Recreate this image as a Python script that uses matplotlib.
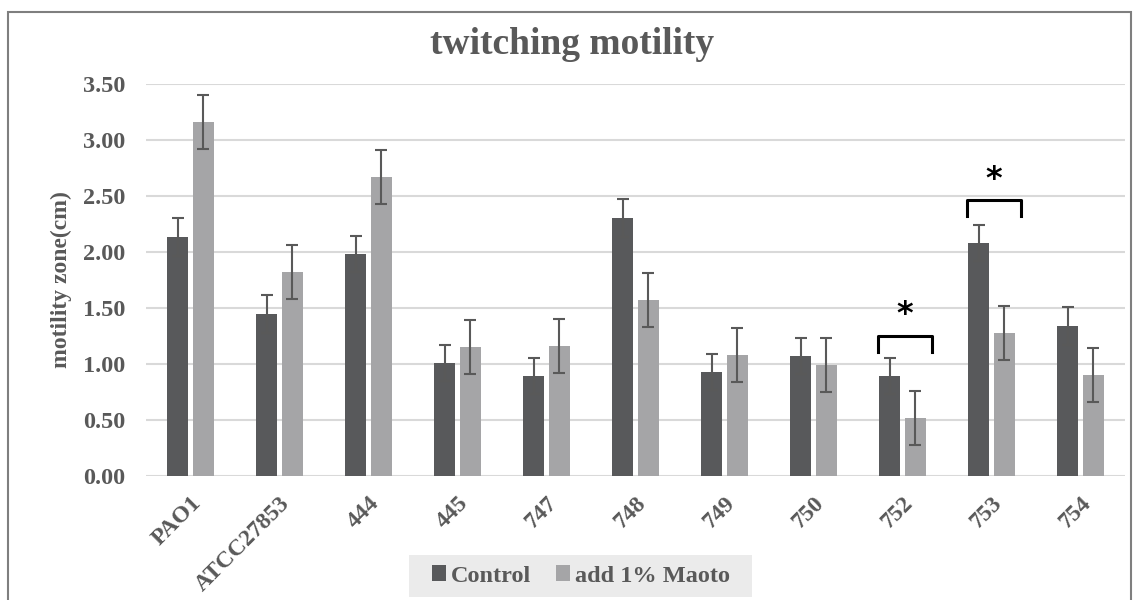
import numpy as np
import matplotlib.pyplot as plt
from matplotlib.patches import Rectangle

plt.rcParams.update({
    "font.family": "Liberation Serif",
    "font.weight": "bold",
    "font.size": 16,
})

strains = ["PAO1", "ATCC27853", "444", "445", "747", "748", "749", "750", "752", "753", "754"]
control = [2.13, 1.45, 1.98, 1.01, 0.89, 2.30, 0.93, 1.07, 0.89, 2.08, 1.34]
control_err = [0.17, 0.17, 0.16, 0.16, 0.16, 0.17, 0.16, 0.16, 0.16, 0.16, 0.17]
maoto = [3.16, 1.82, 2.67, 1.15, 1.16, 1.57, 1.08, 0.99, 0.52, 1.28, 0.90]
maoto_err = [0.24, 0.24, 0.24, 0.24, 0.24, 0.24, 0.24, 0.24, 0.24, 0.24, 0.24]
# strains marked as significant, with bracket height and drop
sig_idx = [8, 9]
sig_top = [1.25, 2.46]
sig_drop = [0.14, 0.14]

c_dark = '#58595b'
c_light = '#a5a5a7'
c_text = '#595959'

fig = plt.figure(figsize=(11.4, 6), dpi=100)
ax = fig.add_axes([146 / 1140, 1 - 476 / 600, 979 / 1140, 392 / 600])

x = np.arange(len(strains))
w = 0.236
off = 0.146
err_kw = dict(ecolor=c_text, elinewidth=1.5, capsize=4.5, capthick=1.5)
ax.bar(x - off, control, w, yerr=control_err, color=c_dark, label='Control',
       error_kw=err_kw, zorder=3)
ax.bar(x + off, maoto, w, yerr=maoto_err, color=c_light, label='add 1% Maoto',
       error_kw=err_kw, zorder=3)

for i, top, drop in zip(sig_idx, sig_top, sig_drop):
    x0, x1 = i - 0.27, i + 0.33
    ax.plot([x0, x0, x1, x1], [top - drop, top, top, top - drop],
            color='black', lw=2.2, solid_joinstyle='round', zorder=4)
    ax.text((x0 + x1) / 2, top + 0.05, '*', ha='center', va='bottom',
            fontsize=23, family='DejaVu Sans', fontweight='bold', color='black')

ax.set_xlim(-0.5, len(strains) - 0.5)
ax.set_ylim(0, 3.5)
ax.set_yticks(np.arange(0, 3.51, 0.5))
ax.set_yticklabels([f"{v:.2f}" for v in np.arange(0, 3.51, 0.5)], fontsize=17.5, color=c_text)
ax.set_xticks(x)
ax.set_xticklabels(strains, rotation=45, ha='right', rotation_mode='anchor',
                   fontsize=17, color=c_text)
ax.tick_params(axis='y', length=0, pad=15)
ax.tick_params(axis='x', length=0, pad=12)
ax.yaxis.grid(True, color='#d9d9d9', lw=1.5, zorder=0)
ax.set_axisbelow(True)
for s in ax.spines.values():
    s.set_visible(False)

ax.set_ylabel('motility zone(cm)', fontsize=17, fontweight='bold', color=c_text, labelpad=8)
fig.text(572 / 1140, 1 - 45 / 600, 'twitching motility', ha='center', va='center',
         fontsize=27, color=c_text)

# grey band behind the legend, wider than the legend's own padding
fig.patches.append(Rectangle((409 / 1140, 1 - 597 / 600), 343 / 1140, 42 / 600,
                             transform=fig.transFigure, facecolor='#ebebeb',
                             edgecolor='none', zorder=0))
leg = fig.legend(loc='center', bbox_to_anchor=(581 / 1140, 1 - 576 / 600), ncol=2,
                 frameon=False, fontsize=17.5, handlelength=0.6,
                 handleheight=0.6, handletextpad=0.2, columnspacing=1.0,
                 borderpad=0.4, borderaxespad=0)
for t in leg.get_texts():
    t.set_color(c_text)

# outer chart border
fig.patches.append(Rectangle((8 / 1140, -0.05), 1123 / 1140, 1.05 - 12 / 600,
                             transform=fig.transFigure, fill=False,
                             edgecolor='#7f7f7f', lw=1.5))

fig.savefig('out.png', dpi=100)
